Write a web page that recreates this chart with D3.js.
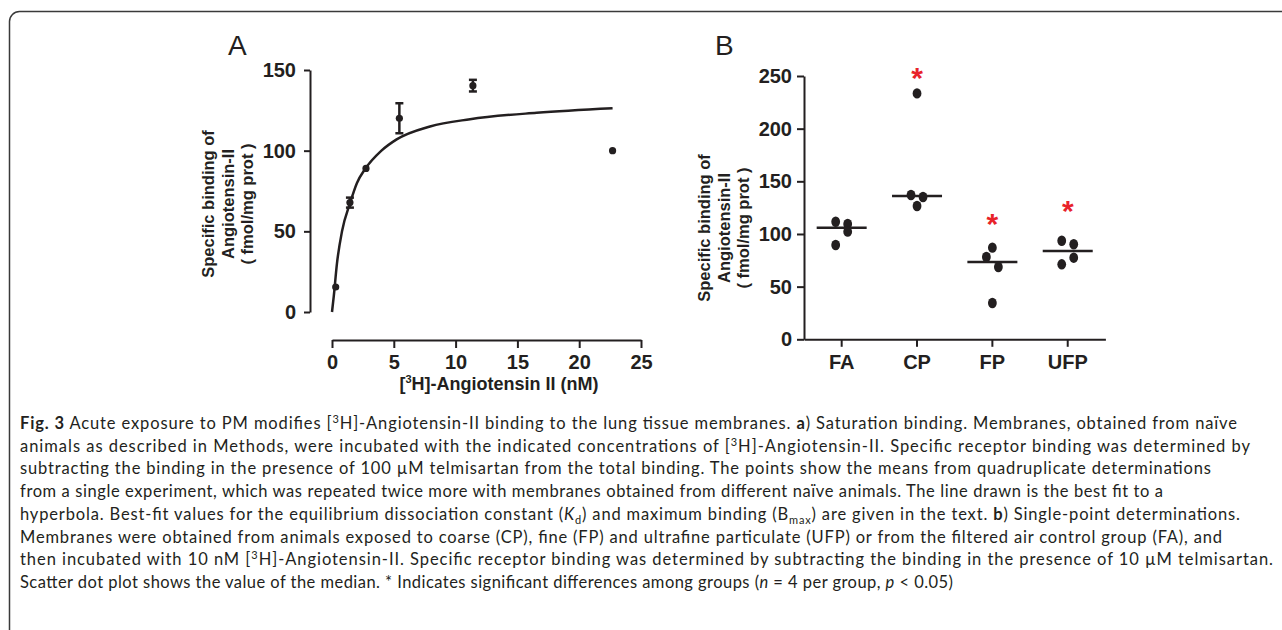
<!DOCTYPE html>
<html>
<head>
  <meta charset="utf-8">
  <title>Fig. 3</title>
  <style>
    body { margin: 0; background: #fff; }
    .chart text { font-family: "Liberation Sans", Arial, sans-serif; fill: #231f20; }
    .tick text { font-weight: bold; font-size: 20px; }
    .chart text.caption { font-family: Lato, "Open Sans", sans-serif; font-size: 16.5px; fill: #231f20; white-space: pre; }
  </style>
</head>
<body>
  <div id="fig"></div>
  <script src="https://d3js.org/d3.v7.min.js"></script>
  <script>

    function translate(x, y) {
      return 'translate(' + x + ',' + y + ')';
    }

    // ---------------- data, panel A (saturation binding)
    let concNM = [0.3, 1.45, 2.75, 5.45, 11.4, 22.7];
    let bindingMean = [15.5, 67.8, 89.0, 120.1, 140.3, 100.0];
    let bindingSem = [0, 3.1, 0, 9.3, 3.6, 0];
    // best-fit hyperbola
    let fitX = [0, 0.14, 0.4, 0.81, 1.48, 2.02, 2.67, 4, 5.23, 7.93, 11.17, 16.56, 22.7];
    let fitY = [0, 9.5, 30, 50, 68, 80, 88.5, 100, 107, 115, 119.5, 123.5, 126.3];
    let xTicksA = [0, 5, 10, 15, 20, 25];
    let yTicksA = [0, 50, 100, 150];

    // ---------------- data, panel B (single point)
    let groups = ['FA', 'CP', 'FP', 'UFP'];
    let faValues = [111.6, 109.5, 89.5, 102.2];
    let cpValues = [233.5, 137.0, 135.1, 126.6];
    let fpValues = [87.0, 78.1, 68.6, 34.5];
    let ufpValues = [93.6, 90.2, 71.2, 77.5];
    let sigGroups = ['CP', 'FP', 'UFP'];
    let starValues = [255, 116.5, 128.5];
    let yTicksB = [0, 50, 100, 150, 200, 250];

    let groupValues = [faValues, cpValues, fpValues, ufpValues];

    let svg = d3.select('#fig')
      .append('svg')
      .attr('class', 'chart')
      .attr('width', 1282)
      .attr('height', 630);

    // frame
    svg.append('rect')
      .attr('x', 9.5).attr('y', 11.5)
      .attr('width', 1300).attr('height', 660)
      .attr('rx', 10)
      .attr('fill', 'none')
      .attr('stroke', '#3a3a3a')
      .attr('stroke-width', 1.5);

    function styleAxis(g) {
      g.selectAll('path, line').attr('stroke', '#231f20').attr('stroke-width', 2);
      g.selectAll('text').attr('fill', '#231f20');
    }

    function yTitle(x0, cy, lines) {
      lines.forEach((l, i) => {
        svg.append('text')
          .attr('transform', translate(x0 + i * 19.5, cy) + ' rotate(-90)')
          .attr('text-anchor', 'middle')
          .attr('font-weight', 'bold')
          .attr('font-size', '16.5px')
          .text(l);
      });
    }

    let titleLines = ['Specific binding of', 'Angiotensin-II', '( fmol/mg prot )'];

    //-------------------------------------------------------------panel A
    let xA = d3.scaleLinear().domain([0, 25]).range([332, 641]);
    let yA = d3.scaleLinear().domain([0, 150]).range([312, 70]);

    svg.append('g')
      .attr('transform', translate(310, 0))
      .call(d3.axisLeft(yA).tickValues(yTicksA).tickSize(6).tickSizeOuter(0).tickPadding(8))
      .call(styleAxis);

    svg.append('g')
      .attr('transform', translate(0, 340))
      .call(d3.axisBottom(xA).tickValues(xTicksA).tickSize(8).tickSizeOuter(0).tickPadding(7))
      .call(styleAxis);

    let fitLine = d3.line()
      .x(d => xA(d[0]))
      .y(d => yA(d[1]))
      .curve(d3.curveMonotoneX);

    svg.append('path')
      .datum(d3.zip(fitX, fitY))
      .attr('d', fitLine)
      .attr('fill', 'none')
      .attr('stroke', '#231f20')
      .attr('stroke-width', 2.5);

    let ptsA = d3.zip(concNM, bindingMean, bindingSem);
    let errA = svg.append('g').selectAll('g')
      .data(ptsA.filter(d => d[2] > 0))
      .enter().append('g')
      .attr('stroke', '#231f20')
      .attr('stroke-width', 2.5);
    errA.append('line')
      .attr('x1', d => xA(d[0])).attr('x2', d => xA(d[0]))
      .attr('y1', d => yA(d[1] - d[2])).attr('y2', d => yA(d[1] + d[2]));
    errA.append('line')
      .attr('x1', d => xA(d[0]) - 4).attr('x2', d => xA(d[0]) + 4)
      .attr('y1', d => yA(d[1] - d[2])).attr('y2', d => yA(d[1] - d[2]));
    errA.append('line')
      .attr('x1', d => xA(d[0]) - 4).attr('x2', d => xA(d[0]) + 4)
      .attr('y1', d => yA(d[1] + d[2])).attr('y2', d => yA(d[1] + d[2]));

    svg.append('g').selectAll('circle')
      .data(ptsA)
      .enter().append('circle')
      .attr('cx', d => xA(d[0]))
      .attr('cy', d => yA(d[1]))
      .attr('r', 3.6)
      .attr('fill', '#231f20');

    svg.append('text')
      .attr('x', 228).attr('y', 55)
      .attr('font-size', '28px')
      .text('A');

    let xTitle = svg.append('text')
      .attr('x', 499).attr('y', 390)
      .attr('text-anchor', 'middle')
      .attr('font-weight', 'bold')
      .attr('font-size', '18px');
    xTitle.append('tspan').text('[');
    xTitle.append('tspan').attr('font-size', '11px').attr('dy', -7).text('3');
    xTitle.append('tspan').attr('dy', 7).text('H]-Angiotensin II (nM)');

    yTitle(214, 204, titleLines);

    //-------------------------------------------------------------panel B
    let xB = d3.scaleBand().domain(groups).range([804, 1105.4]);
    let yB = d3.scaleLinear().domain([0, 250]).range([339.3, 76]);

    svg.append('g')
      .attr('transform', translate(804, 0))
      .call(d3.axisLeft(yB).tickValues(yTicksB).tickSize(7).tickSizeOuter(0).tickPadding(5))
      .call(styleAxis);

    svg.append('g')
      .attr('transform', translate(0, 339.3))
      .call(d3.axisBottom(xB).tickSize(7.5).tickSizeOuter(0).tickPadding(8.5))
      .call(styleAxis);

    // spread points that fall in the same 25-unit bin, in data order
    let dotsB = [];
    groups.forEach((g, gi) => {
      let vals = groupValues[gi];
      let bins = d3.group(vals.map((v, i) => ({v: v, i: i})), d => Math.floor((d.v - 5) / 25));
      bins.forEach(members => {
        let n = members.length;
        members.forEach((m, k) => {
          dotsB.push({group: g, value: m.v, off: (k - (n - 1) / 2) * 12});
        });
      });
    });

    svg.append('g').selectAll('ellipse')
      .data(dotsB)
      .enter().append('ellipse')
      .attr('cx', d => xB(d.group) + xB.bandwidth() / 2 + d.off)
      .attr('cy', d => yB(d.value))
      .attr('rx', 4.4)
      .attr('ry', 5.2)
      .attr('fill', '#231f20');

    svg.append('g').selectAll('line')
      .data(groups)
      .enter().append('line')
      .attr('x1', d => xB(d) + xB.bandwidth() / 2 - 25)
      .attr('x2', d => xB(d) + xB.bandwidth() / 2 + 25)
      .attr('y1', (d, i) => yB(d3.median(groupValues[i])))
      .attr('y2', (d, i) => yB(d3.median(groupValues[i])))
      .attr('stroke', '#231f20')
      .attr('stroke-width', 2.5);

    svg.append('g').selectAll('text')
      .data(sigGroups)
      .enter().append('text')
      .attr('x', d => xB(d) + xB.bandwidth() / 2)
      .attr('y', (d, i) => yB(starValues[i]) + 17)
      .attr('text-anchor', 'middle')
      .attr('font-weight', 'bold')
      .attr('font-size', '30px')
      .style('fill', '#e8232a')
      .text('*');

    svg.append('text')
      .attr('x', 715).attr('y', 55)
      .attr('font-size', '28px')
      .text('B');

    yTitle(710, 228, titleLines);

    //-------------------------------------------------------------caption
    let captionLines = [
      [{t: 'Fig. 3', b: 1}, {t: ' Acute exposure to PM modifies ['}, {t: '3', sup: 1}, {t: 'H]-Angiotensin-II binding to the lung tissue membranes. '}, {t: 'a', b: 1}, {t: ') Saturation binding. Membranes, obtained from naïve'}],
      [{t: 'animals as described in Methods, were incubated with the indicated concentrations of ['}, {t: '3', sup: 1}, {t: 'H]-Angiotensin-II. Specific receptor binding was determined by'}],
      [{t: 'subtracting the binding in the presence of 100 µM telmisartan from the total binding. The points show the means from quadruplicate determinations'}],
      [{t: 'from a single experiment, which was repeated twice more with membranes obtained from different naïve animals. The line drawn is the best fit to a'}],
      [{t: 'hyperbola. Best-fit values for the equilibrium dissociation constant ('}, {t: 'K', i: 1}, {t: 'd', sub: 1}, {t: ') and maximum binding (B'}, {t: 'max', sub: 1}, {t: ') are given in the text. '}, {t: 'b', b: 1}, {t: ') Single-point determinations.'}],
      [{t: 'Membranes were obtained from animals exposed to coarse (CP), fine (FP) and ultrafine particulate (UFP) or from the filtered air control group (FA), and'}],
      [{t: 'then incubated with 10 nM ['}, {t: '3', sup: 1}, {t: 'H]-Angiotensin-II. Specific receptor binding was determined by subtracting the binding in the presence of 10 µM telmisartan.'}],
      [{t: 'Scatter dot plot shows the value of the median. * Indicates significant differences among groups ('}, {t: 'n', i: 1}, {t: ' = 4 per group, '}, {t: 'p', i: 1}, {t: ' < 0.05)'}]
    ];
    let captionWidths = [1217, 1230, 1191, 1143, 1220, 1202, 1253, 933];

    captionLines.forEach((segs, li) => {
      let t = svg.append('text')
        .attr('class', 'caption')
        .attr('x', 20)
        .attr('y', 429 + li * 22.7)
        .attr('textLength', captionWidths[li])
        .attr('lengthAdjust', 'spacing');
      let shift = 0;
      segs.forEach(s => {
        let target = s.sup ? -6 : (s.sub ? 4 : 0);
        let ts = t.append('tspan').attr('dy', target - shift).text(s.t);
        shift = target;
        if (s.b) ts.attr('font-weight', 'bold');
        if (s.i) ts.attr('font-style', 'italic');
        if (s.sup || s.sub) ts.attr('font-size', '11px');
      });
    });

  </script>
</body>
</html>
